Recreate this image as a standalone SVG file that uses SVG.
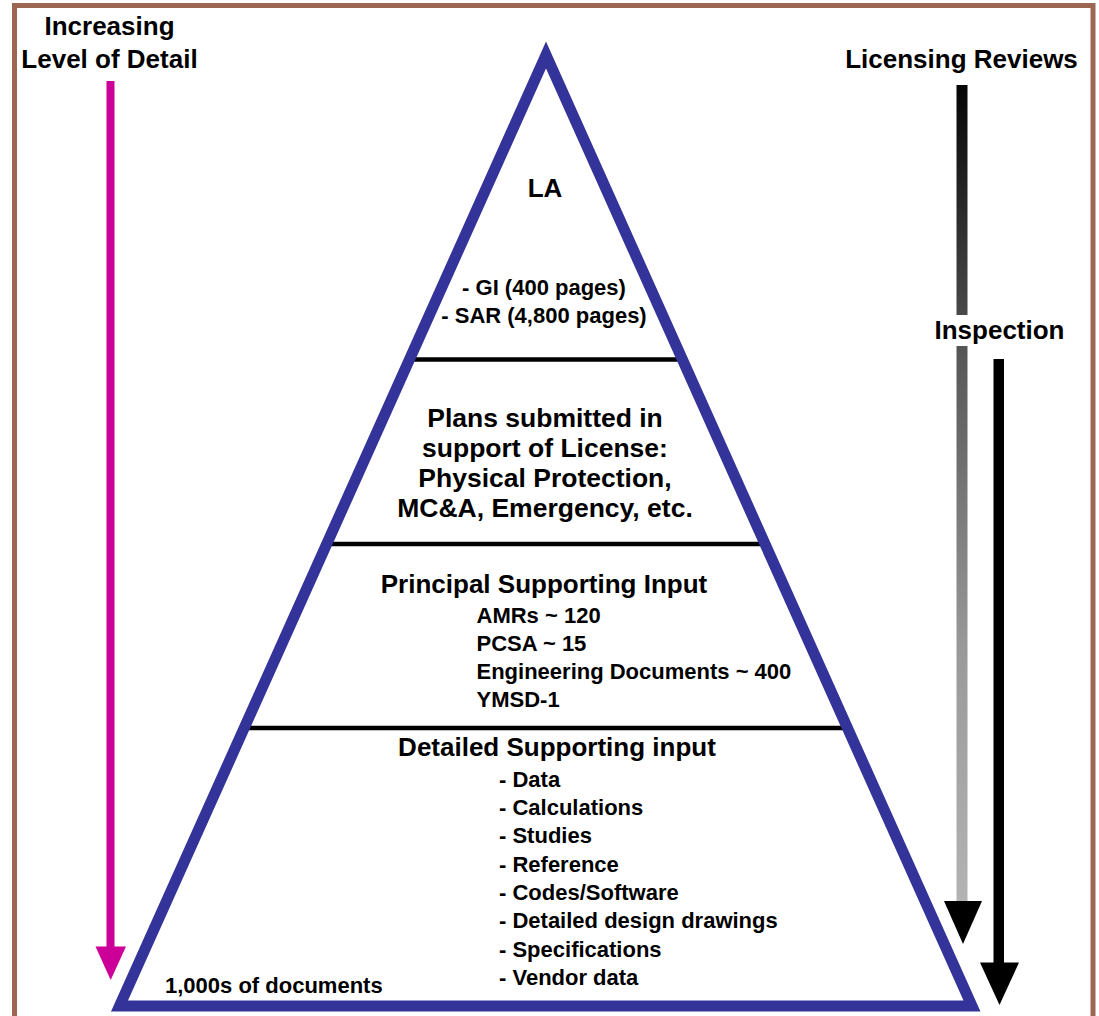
<svg xmlns="http://www.w3.org/2000/svg" width="1099" height="1016" viewBox="0 0 1099 1016">
<style>
text{font-family:"Liberation Sans",Arial,sans-serif;font-weight:bold;fill:#000}
.big{font-size:26px}
.mid{font-size:26.5px}
.sm{font-size:22px}
.c{text-anchor:middle}
.div{stroke:#000;stroke-width:4.5}
</style>
<defs>
<linearGradient id="grayGrad" gradientUnits="userSpaceOnUse" x1="0" y1="85" x2="0" y2="901">
<stop offset="0" stop-color="#050505"/>
<stop offset="0.264" stop-color="#444444"/>
<stop offset="0.337" stop-color="#595959"/>
<stop offset="0.69" stop-color="#999999"/>
<stop offset="1" stop-color="#b3b3b3"/>
</linearGradient>
</defs>
<rect x="0" y="0" width="1099" height="1016" fill="#fff"/>
<rect id="frame" x="14.5" y="5.5" width="1078.5" height="1030" fill="none" stroke="#9C6652" stroke-width="5"/>

<g id="pyramid">
<line class="div" x1="409" y1="359.5" x2="683" y2="359.5"/>
<line class="div" x1="326" y1="544" x2="766" y2="544"/>
<line class="div" x1="244" y1="728" x2="848" y2="728"/>
<polygon points="546,55 119.5,1006 972,1006" fill="none" stroke="#333399" stroke-width="11" stroke-linejoin="miter" stroke-miterlimit="10"/>
</g>

<g id="level-la">
<text class="big c" x="545" y="197">LA</text>
<text class="sm c" x="544" y="295">- GI (400 pages)</text>
<text class="sm c" x="544" y="323">- SAR (4,800 pages)</text>
</g>

<g id="level-plans">
<text class="mid c" x="545" y="426.5">Plans submitted in</text>
<text class="mid c" x="545" y="456.5">support of License:</text>
<text class="mid c" x="545" y="486.5">Physical Protection,</text>
<text class="mid c" x="545" y="516.5">MC&amp;A, Emergency, etc.</text>
</g>

<g id="level-principal">
<text class="big c" x="544" y="593">Principal Supporting Input</text>
<text class="sm" x="476.5" y="623">AMRs ~ 120</text>
<text class="sm" x="476.5" y="650.5">PCSA ~ 15</text>
<text class="sm" x="476.5" y="678.5">Engineering Documents ~ 400</text>
<text class="sm" x="476.5" y="706.5">YMSD-1</text>
</g>

<g id="level-detailed">
<text class="big c" x="557" y="756">Detailed Supporting input</text>
<text class="sm" x="499" y="786.5">- Data</text>
<text class="sm" x="499" y="815">- Calculations</text>
<text class="sm" x="499" y="843.3">- Studies</text>
<text class="sm" x="499" y="871.7">- Reference</text>
<text class="sm" x="499" y="900">- Codes/Software</text>
<text class="sm" x="499" y="928.3">- Detailed design drawings</text>
<text class="sm" x="499" y="956.7">- Specifications</text>
<text class="sm" x="499" y="985">- Vendor data</text>
<text class="sm" x="165" y="993">1,000s of documents</text>
</g>

<g id="label-detail">
<text class="big c" x="109.5" y="35">Increasing</text>
<text class="big c" x="109.5" y="68">Level of Detail</text>
</g>
<g id="label-licensing">
<text class="big c" x="961.5" y="68">Licensing Reviews</text>
</g>
<g id="label-inspection">
<text class="big c" x="999.5" y="339">Inspection</text>
</g>

<g id="connectors">
<rect x="106.5" y="81" width="8" height="866" fill="#CC0099"/>
<polygon points="95.5,946.5 126,946.5 110.7,980" fill="#CC0099"/>
<rect x="956.5" y="85" width="11" height="230" fill="url(#grayGrad)"/>
<rect x="956.5" y="346" width="11" height="556" fill="url(#grayGrad)"/>
<polygon points="944,901 982,901 963,944" fill="#000"/>
<rect x="993.5" y="359" width="10.5" height="604" fill="#000"/>
<polygon points="980,962.5 1019,962.5 999.5,1005" fill="#000"/>
</g>
</svg>
